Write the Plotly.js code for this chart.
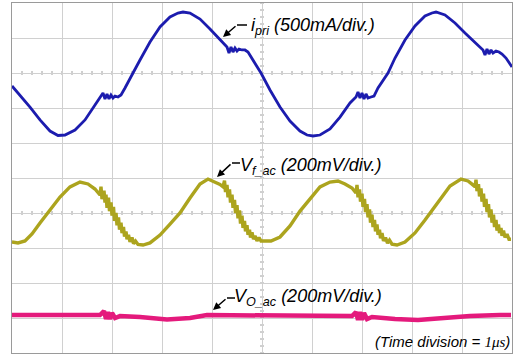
<!DOCTYPE html>
<html><head><meta charset="utf-8">
<script src="https://cdn.plot.ly/plotly-3.0.1.min.js"></script>
<style>html,body{margin:0;padding:0;background:#fff;}#chart{width:522px;height:354px;}</style>
</head><body><div id="chart"></div>
<script>
// time in microseconds
const tPri = [0.00,0.16,0.36,0.56,0.76,0.92,1.06,1.26,1.46,1.66,1.76,1.82,1.86,1.90,1.94,1.98,2.02,2.06,2.12,2.18,2.26,2.36,2.42,2.56,2.76,2.96,3.16,3.32,3.42,3.56,3.76,3.96,4.16,4.30,4.34,4.38,4.42,4.46,4.50,4.54,4.60,4.66,4.72,4.80,4.88,4.98,5.16,5.36,5.56,5.76,5.90,6.02,6.16,6.36,6.56,6.76,6.88,6.92,6.96,7.00,7.04,7.08,7.12,7.18,7.24,7.32,7.42,7.52,7.66,7.86,8.06,8.26,8.40,8.48,8.66,8.86,9.06,9.26,9.42,9.46,9.50,9.54,9.58,9.62,9.68,9.74,9.80,9.88,9.94,10.00];
// i_pri in mA
const iPri = [-186,-314,-486,-671,-829,-893,-886,-814,-671,-457,-343,-286,-371,-300,-371,-314,-357,-329,-343,-314,-214,-71,0,186,443,657,800,857,871,857,771,629,471,371,286,371,300,357,314,343,329,329,300,214,114,0,-243,-486,-686,-829,-886,-900,-886,-800,-629,-429,-343,-271,-357,-286,-371,-300,-357,-343,-329,-214,-100,0,214,471,671,814,857,871,829,714,571,429,329,257,343,271,329,286,314,300,271,214,157,86];

const tVf = [0.00,0.12,0.26,0.40,0.56,0.76,0.96,1.16,1.36,1.52,1.66,1.76,
  1.78,1.80,1.84,1.86,1.88,1.90,1.93,1.95,1.98,2.00,2.03,2.05,2.08,2.10,2.13,2.15,2.18,2.20,2.23,2.25,2.28,2.30,2.33,2.36,2.40,2.43,2.47,2.52,
  2.62,2.76,2.96,3.16,3.36,3.56,3.76,3.92,4.06,4.16,
  4.22,4.25,4.27,4.30,4.32,4.35,4.37,4.40,4.42,4.45,4.47,4.50,4.52,4.55,4.57,4.60,4.62,4.65,4.67,4.70,4.72,4.75,4.77,4.80,4.83,4.86,4.90,4.94,4.98,5.08,
  5.18,5.36,5.56,5.76,5.98,6.16,6.36,6.52,6.66,6.80,
  6.88,6.90,6.92,6.95,6.97,7.00,7.02,7.05,7.07,7.10,7.12,7.15,7.17,7.20,7.22,7.25,7.27,7.30,7.32,7.35,7.37,7.40,7.43,7.47,7.51,7.55,7.60,7.70,
  7.86,8.06,8.26,8.38,8.56,8.76,8.98,9.12,9.20,
  9.26,9.28,9.30,9.33,9.35,9.38,9.40,9.43,9.45,9.48,9.50,9.53,9.55,9.58,9.60,9.63,9.65,9.68,9.70,9.73,9.75,9.78,9.80,9.83,9.86,9.90,9.94,9.98];
// V_f_ac in mV
const vFac = [-166,-171,-160,-120,-57,17,91,149,177,166,137,103,
  150,80,128,60,105,30,88,10,60,-15,35,-45,0,-70,-25,-95,-55,-115,-80,-135,-105,-150,-125,-165,-140,-175,-160,-180,
  -183,-171,-126,-63,0,86,166,194,177,163,
  150,185,120,160,90,135,60,105,30,75,0,45,-30,15,-60,-15,-85,-45,-105,-70,-125,-95,-140,-110,-150,-130,-160,-140,-160,-160,
  -160,-137,-74,11,91,149,177,183,166,143,
  114,160,90,135,65,110,35,80,5,50,-25,20,-55,-10,-80,-40,-105,-65,-125,-95,-145,-115,-160,-140,-172,-155,-178,-183,
  -166,-114,-40,6,80,154,194,183,165,
  150,190,125,165,95,140,65,110,35,80,5,50,-25,20,-55,-10,-80,-40,-100,-65,-115,-85,-130,-100,-140,-120,-150,-150];

const tVo = [0.00,0.36,0.96,1.56,1.76,1.84,1.88,1.92,1.96,2.00,2.06,2.16,2.56,3.10,3.56,3.90,4.36,4.98,5.76,6.80,6.88,6.92,6.96,7.00,7.04,7.10,7.20,7.66,8.12,8.56,9.16,9.76,9.98];
// V_O_ac in mV
const vOac = [17,17,20,17,17,40,-6,34,-6,29,0,11,6,-9,0,17,17,17,17,11,34,-11,34,-11,29,-6,6,-6,-11,0,11,17,17];

const W = 522, H = 354, L = 12, R = 10, T = 3, B = 1;
const pw = W - L - R, ph = H - T - B;
const px = x => (x - L) / pw;
const py = y => (H - B - y) / ph;

const traces = [
  {x: tPri, y: iPri, type: 'scatter', mode: 'lines', line: {color: '#1c1cae', width: 2.8}, yaxis: 'y', hoverinfo: 'skip'},
  {x: tVf, y: vFac, type: 'scatter', mode: 'lines', line: {color: '#aca41e', width: 3.4}, yaxis: 'y2', hoverinfo: 'skip'},
  {x: tVo, y: vOac, type: 'scatter', mode: 'lines', line: {color: '#e41a7c', width: 4.5}, yaxis: 'y3', hoverinfo: 'skip'},
  // ground reference markers
  {x: [10.1], y: [0], yaxis: 'y', mode: 'markers', marker: {symbol: 'triangle-left', size: 11, color: '#000'}, cliponaxis: false},
  {x: [10.1], y: [0], yaxis: 'y2', mode: 'markers', marker: {symbol: 'triangle-left', size: 11, color: '#000'}, cliponaxis: false},
  {x: [10.1], y: [0], yaxis: 'y3', mode: 'markers', marker: {symbol: 'triangle-left', size: 11, color: '#000'}, cliponaxis: false}
];

const gridC = '#d0d0d0', tickC = '#a0a0a0';
const font = {family: 'Liberation Sans, Arial, sans-serif', size: 18, color: '#000'};
const arrows = [
  {tip: [223, 37], kink: [237, 25], end: 247},
  {tip: [217, 177], kink: [232, 163], end: 240},
  {tip: [213, 310], kink: [227, 298], end: 235}
];
const annotations = [
  {xref: 'paper', yref: 'paper', x: px(249), y: py(26), xanchor: 'left', yanchor: 'middle', showarrow: false, font: font, text: '<i>i<sub>pri</sub> (500mA/div.)</i>'},
  {xref: 'paper', yref: 'paper', x: px(238), y: py(167), xanchor: 'left', yanchor: 'middle', showarrow: false, font: font, text: '<i>V<sub>f_ac</sub> (200mV/div.)</i>'},
  {xref: 'paper', yref: 'paper', x: px(232), y: py(297), xanchor: 'left', yanchor: 'middle', showarrow: false, font: font, text: '<i>V<sub>O_ac</sub> (200mV/div.)</i>'},
  {xref: 'paper', yref: 'paper', x: px(373), y: py(341), xanchor: 'left', yanchor: 'middle', showarrow: false, font: {family: 'Liberation Sans, Arial, sans-serif', size: 15, color: '#000'}, text: '<i>(Time division = <span style="font-family:Liberation Serif,Times New Roman,serif">1μs</span>)</i>'}
];
const shapes = [];
arrows.forEach(a => {
  annotations.push({xref: 'paper', yref: 'paper', x: px(a.tip[0]), y: py(a.tip[1]), ax: a.kink[0] - a.tip[0], ay: a.kink[1] - a.tip[1], text: '', showarrow: true, arrowhead: 2, arrowsize: 1, arrowwidth: 1.5, arrowcolor: '#000'});
  shapes.push({type: 'line', xref: 'paper', yref: 'paper', x0: px(a.kink[0]), y0: py(a.kink[1]), x1: px(a.end), y1: py(a.kink[1]), line: {color: '#000', width: 1.5}});
});
// graticule minor ticks on the centre lines (0.2 division spacing)
const tl = 2; // half tick length, px
for (let k = 1; k < 50; k++) {
  const xv = k * 0.2;
  shapes.push({type: 'line', xref: 'x', yref: 'y', x0: xv, x1: xv, y0: -tl / 35 * 500, y1: tl / 35 * 500, line: {color: tickC, width: 1}, layer: 'below'});
  shapes.push({type: 'line', xref: 'x', yref: 'y2', x0: xv, x1: xv, y0: -tl / 35 * 200, y1: tl / 35 * 200, line: {color: tickC, width: 1}, layer: 'below'});
}
for (let k = -40; k <= 10; k++) {
  const yv = k * 100;
  shapes.push({type: 'line', xref: 'x', yref: 'y', x0: 5 - tl / 50, x1: 5 + tl / 50, y0: yv, y1: yv, line: {color: tickC, width: 1}, layer: 'below'});
}

const layout = {
  width: W, height: H,
  margin: {l: L, r: R, t: T, b: B, pad: 0},
  paper_bgcolor: '#fff', plot_bgcolor: '#fff',
  showlegend: false,
  xaxis: {range: [0, 10], dtick: 1, tick0: 0, showgrid: true, gridcolor: gridC, gridwidth: 1, showticklabels: false, ticks: '', zeroline: false, showline: true, mirror: true, linecolor: '#9a9a9a', linewidth: 1},
  yaxis: {range: [-4000, 1000], dtick: 500, tick0: 0, showgrid: true, gridcolor: gridC, gridwidth: 1, showticklabels: false, ticks: '', zeroline: false, showline: true, mirror: true, linecolor: '#9a9a9a', linewidth: 1},
  yaxis2: {overlaying: 'y', range: [-800, 1200], visible: false},
  yaxis3: {overlaying: 'y', range: [-200, 1800], visible: false},
  annotations: annotations,
  shapes: shapes
};
Plotly.newPlot('chart', traces, layout, {staticPlot: true, displayModeBar: false});
</script>
</body></html>
